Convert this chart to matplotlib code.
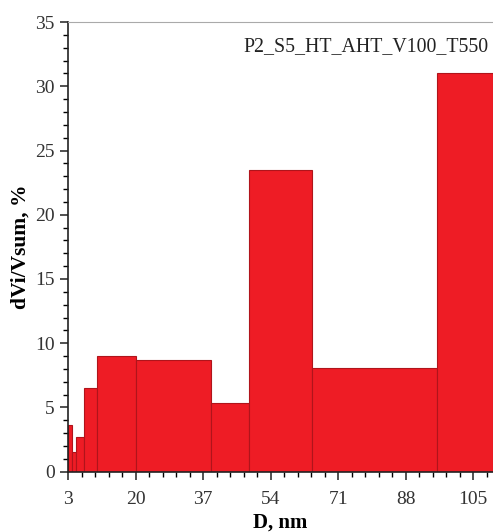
import numpy as np
import matplotlib
matplotlib.use("Agg")
import matplotlib.pyplot as plt
from matplotlib.ticker import MultipleLocator, AutoMinorLocator

# bin edges (nm) and volume fraction per bin (%)
edges = [3, 4, 5, 7, 10.3, 20, 39, 48.5, 64.5, 96, 110]
share = [3.66, 1.55, 2.7, 6.5, 9.02, 8.72, 5.36, 23.5, 8.07, 31.0]
xticks = [3, 20, 37, 54, 71, 88, 105]
sample = "P2_S5_HT_AHT_V100_T550"

plt.rcParams["font.family"] = ["Liberation Serif", "DejaVu Serif"]

fig = plt.figure(figsize=(4.93, 5.32), dpi=100)
ax = fig.add_axes([0.138, 0.1133, 0.862, 0.8453])

left = np.array(edges[:-1])
width = np.diff(edges)
ax.bar(left, share, width=width, align="edge", color="#ee1c25",
       edgecolor="#b0141b", linewidth=0.8)

ax.set_xlim(3, 110)
ax.set_ylim(0, 35)
ax.set_xticks(xticks)
ax.xaxis.set_minor_locator(AutoMinorLocator(5))
ax.yaxis.set_major_locator(MultipleLocator(5))
ax.yaxis.set_minor_locator(MultipleLocator(1))
ax.tick_params(axis="both", which="major", direction="out", length=6,
               width=1.2, labelsize=14, colors="#333333")
ax.tick_params(axis="x", which="major", pad=8)
ax.tick_params(axis="both", which="minor", direction="out", length=3.5, width=1.0)
for s in ("left", "bottom"):
    ax.spines[s].set_linewidth(1.2)
    ax.spines[s].set_color("#222222")
ax.spines["top"].set_color("#aaaaaa")
ax.spines["right"].set_visible(False)

ax.set_xlabel("D, nm", fontweight="bold", fontsize=15, labelpad=3)
ax.set_ylabel("dVi/Vsum, %", fontweight="bold", fontsize=15.5, labelpad=3)
ax.text(0.99, 0.967, sample, transform=ax.transAxes, ha="right", va="top",
        fontsize=14.3, color="#222222")

fig.savefig("out.png", dpi=100)
